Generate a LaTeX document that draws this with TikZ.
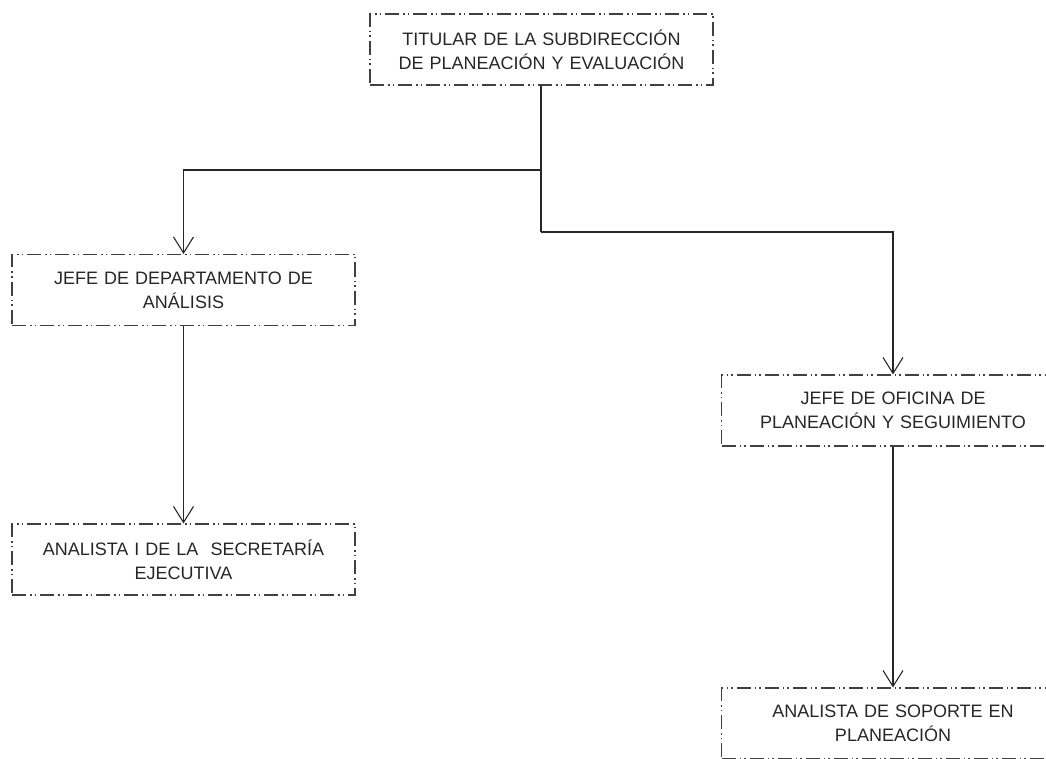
\documentclass[tikz,border=0pt]{standalone}
\usepackage{fontspec}
\setmainfont{Liberation Sans}
\usetikzlibrary{arrows.meta}
\tikzstyle{puesto}=[
	draw=black!75,
	line width=1.1pt,
	dash pattern=on 14pt off 4pt on 1.5pt off 3pt on 1.5pt off 4pt,
	shape=rectangle,
	minimum width=343pt,
	minimum height=71pt,
	text width=335pt,
	align=center,
	inner sep=0pt,
	font=\fontsize{18}{24}\selectfont,
	text=black!85
]
\tikzstyle{linea} = [draw,line width=1.3pt,black!85,-{Straight Barb[length=16pt,width=20pt,line width=1.1pt]}]
\tikzstyle{tramo} = [draw,line width=1.3pt,black!85]

\begin{document}
\begin{tikzpicture}[x=1pt,y=-1pt]
			\useasboundingbox (0,0) rectangle (1046,759);
			\clip (0,0) rectangle (1046,759);
			
			\node[puesto]	(titular)	at (541.5,49.5) {TITULAR DE LA SUBDIRECCIÓN\\DE PLANEACIÓN Y EVALUACIÓN};
			\node[puesto]	(jefeA)	at (183.5,290) {JEFE DE DEPARTAMENTO DE\\ANÁLISIS};
			\node[puesto]	(analistaS)	at (183.5,559.5) {ANALISTA I DE LA \ SECRETARÍA\\EJECUTIVA};
			\node[puesto]	(jefeP)	at (893,410.5) {JEFE DE OFICINA DE\\PLANEACIÓN Y SEGUIMIENTO};
			\node[puesto]	(analistaP)	at (893,723.5) {ANALISTA DE SOPORTE EN\\PLANEACIÓN};
			
			\coordinate (rama1) at (541,170);
			\coordinate (rama2) at (541,232);
			
			\path[tramo] (titular.south -| rama1) -- (rama2);
			\path[linea] (rama1) -| (jefeA.north);
			\path[linea] (rama2) -| (jefeP.north);
			\path[linea] (jefeA) -- (analistaS);
			\path[linea] (jefeP) -- (analistaP);
			
\end{tikzpicture}
\end{document}
